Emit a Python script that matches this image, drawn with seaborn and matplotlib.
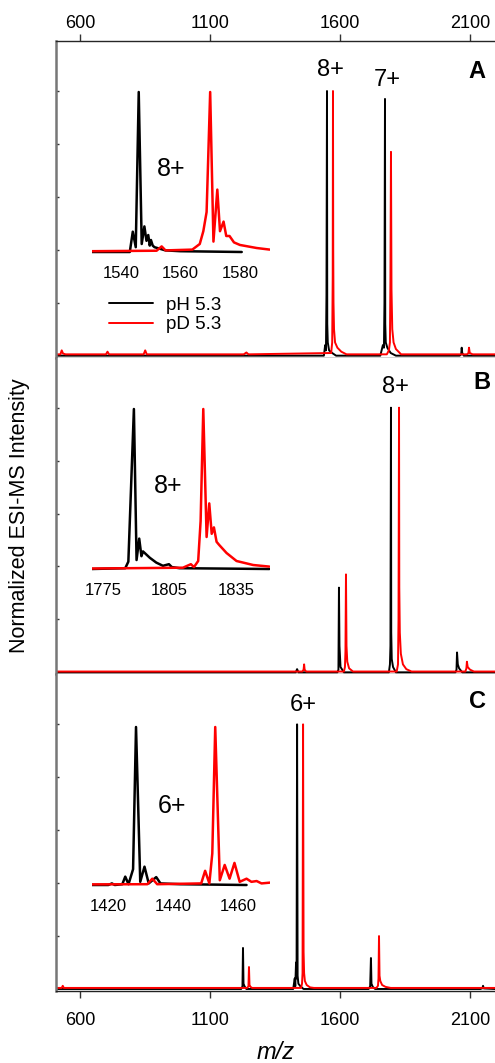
import numpy as np
import pandas as pd
import matplotlib
matplotlib.use("Agg")
import matplotlib.pyplot as plt
import seaborn as sns

# ---- data (m/z, normalized intensity) ----
# panel A, full range
a_ph_mz = [508, 1538, 1543, 1546, 1548, 1550, 1551, 1553, 1558, 1570, 1585, 1755, 1765, 1769, 1771,
           1773, 1774, 1776, 1782, 1795, 1815, 2060, 2066, 2068, 2070, 2076, 2196]
a_ph_int = [0, 0, 0.04, 0.02, 0.23, 1.0, 0.12, 0.05, 0.02, 0.01, 0, 0, 0.04, 0.03, 0.2,
            0.97, 0.12, 0.05, 0.03, 0.01, 0, 0, 0.005, 0.03, 0.01, 0, 0]
a_pd_mz = [508, 525, 530, 535, 545, 700, 706, 712, 845, 851, 857, 1230, 1240, 1248, 1566, 1570, 1572,
           1573, 1574, 1575, 1577, 1581, 1590, 1605, 1625, 1780, 1788, 1792, 1794, 1796, 1798, 1801,
           1806, 1815, 1835, 2088, 2094, 2096, 2099, 2110, 2196]
a_pd_int = [0.005, 0.005, 0.02, 0.008, 0.005, 0.005, 0.015, 0.005, 0.005, 0.02, 0.005, 0.005, 0.012,
            0.005, 0.01, 0.05, 0.3, 1.0, 0.4, 0.2, 0.1, 0.05, 0.03, 0.015, 0.005, 0.005, 0.02, 0.05,
            0.3, 0.77, 0.25, 0.1, 0.05, 0.025, 0.005, 0.005, 0.01, 0.03, 0.01, 0.005, 0.005]

# panel B, full range
b_ph_mz = [508, 1430, 1435, 1440, 1590, 1594, 1596, 1598, 1602, 1615, 1788, 1792, 1794, 1796, 1797,
           1799, 1804, 1815, 2044, 2048, 2050, 2053, 2058, 2070, 2196]
b_ph_int = [0, 0, 0.012, 0, 0, 0.01, 0.32, 0.1, 0.02, 0, 0, 0.03, 0.1, 1.0, 0.15,
            0.05, 0.02, 0, 0, 0.01, 0.075, 0.03, 0.015, 0, 0]
b_pd_mz = [508, 1455, 1460, 1462, 1464, 1470, 1615, 1619, 1621, 1623, 1625, 1628, 1635, 1650, 1818,
           1823, 1825, 1827, 1828, 1830, 1834, 1842, 1855, 1875, 2082, 2086, 2088, 2091, 2100, 2115, 2196]
b_pd_int = [0.003, 0.003, 0.01, 0.03, 0.01, 0.003, 0.003, 0.02, 0.08, 0.37, 0.1, 0.04, 0.015, 0.003,
            0.003, 0.03, 0.2, 1.0, 0.32, 0.15, 0.07, 0.03, 0.012, 0.003, 0.003, 0.015, 0.04, 0.02,
            0.01, 0.003, 0.003]

# panel C, full range
c_ph_mz = [508, 1220, 1225, 1227, 1229, 1233, 1240, 1420, 1426, 1428, 1431, 1433, 1435, 1437, 1440,
           1448, 1460, 1710, 1716, 1719, 1721, 1726, 1735, 2140, 2148, 2150, 2153, 2196]
c_ph_int = [0, 0, 0.01, 0.155, 0.02, 0.01, 0, 0, 0.04, 0.01, 0.1, 0.04, 1.0, 0.05, 0.02,
            0.01, 0, 0, 0.01, 0.117, 0.02, 0.008, 0, 0, 0.003, 0.012, 0.002, 0]
c_pd_mz = [508, 530, 534, 538, 700, 1243, 1248, 1250, 1252, 1256, 1262, 1450, 1454, 1456, 1458, 1460,
           1462, 1465, 1472, 1485, 1500, 1740, 1746, 1748, 1750, 1752, 1755, 1762, 1775, 1795, 2196]
c_pd_int = [0.004, 0.004, 0.012, 0.004, 0.004, 0.004, 0.01, 0.083, 0.015, 0.008, 0.004, 0.004, 0.02,
            0.06, 1.0, 0.14, 0.06, 0.03, 0.015, 0.006, 0.004, 0.004, 0.012, 0.04, 0.2, 0.05, 0.03,
            0.015, 0.008, 0.004, 0.004]

# insets (zoom on the main charge state)
ia_ph_mz = [1530, 1543, 1544, 1545, 1546, 1547, 1547.9, 1548.6, 1549.2, 1549.7, 1550.1, 1550.7,
            1551.3, 1555, 1560, 1580.6]
ia_ph_int = [0, 0, 0.127, 0.03, 1.0, 0.05, 0.16, 0.07, 0.106, 0.04, 0.075, 0.04, 0.03, 0.01, 0.005, 0]
ia_pd_mz = [1530, 1552, 1553.7, 1555, 1564, 1566.5, 1567.7, 1568.8, 1570, 1571.1, 1572.4, 1573.3,
            1574.5, 1575.4, 1576.5, 1578, 1580, 1585.6, 1590]
ia_pd_int = [0.005, 0.008, 0.035, 0.01, 0.015, 0.05, 0.13, 0.25, 1.0, 0.065, 0.39, 0.13, 0.19, 0.1,
             0.1, 0.06, 0.044, 0.025, 0.015]

ib_ph_mz = [1770, 1785, 1786.4, 1788.9, 1790.1, 1791.3, 1792.3, 1793, 1796.1, 1799, 1802, 1804.7,
            1806, 1809.5, 1850]
ib_ph_int = [0, 0.005, 0.046, 1.0, 0.056, 0.19, 0.08, 0.11, 0.07, 0.04, 0.02, 0.03, 0.012, 0.005, 0]
ib_pd_mz = [1770, 1811, 1814.6, 1816, 1817.9, 1819, 1820.2, 1821.7, 1822.9, 1824, 1825, 1826.2,
            1827.4, 1830.7, 1835.2, 1842.7, 1850]
ib_pd_int = [0.003, 0.008, 0.03, 0.012, 0.05, 0.3, 1.0, 0.2, 0.41, 0.22, 0.26, 0.17, 0.15, 0.1,
             0.05, 0.025, 0.015]

ic_ph_mz = [1415, 1420, 1421.1, 1422, 1424.3, 1425.2, 1426.2, 1427.6, 1428.5, 1429.8, 1431.1,
            1432.4, 1434.7, 1436, 1442, 1462.4]
ic_ph_int = [0, 0, 0.01, 0, 0.005, 0.053, 0.005, 0.1, 1.0, 0.02, 0.116, 0.01, 0.05, 0.01, 0.005, 0]
ic_pd_mz = [1415, 1432, 1433.5, 1435, 1448.5, 1449.7, 1451, 1451.9, 1452.8, 1454.2, 1455.7, 1457.2,
            1458.7, 1460.3, 1462.4, 1463.9, 1465.5, 1467, 1469.6]
ic_pd_int = [0.004, 0.005, 0.04, 0.005, 0.01, 0.09, 0.01, 0.2, 1.0, 0.03, 0.127, 0.04, 0.14, 0.02,
             0.04, 0.02, 0.025, 0.01, 0.015]

main_ticks = [600, 1100, 1600, 2100]
inset_ticks = [[1540, 1560, 1580], [1775, 1805, 1835], [1420, 1440, 1460]]
panel_letters = ["A", "B", "C"]
series_labels = ["pH 5.3", "pD 5.3"]

# ---- style ----
sns.set_style("white")
plt.rcParams['font.family'] = ['Liberation Sans', 'DejaVu Sans']
plt.rcParams['text.color'] = 'black'
plt.rcParams['xtick.color'] = 'black'
plt.rcParams['axes.labelcolor'] = 'black'
plt.rcParams['axes.linewidth'] = 1.0

W, H = 495, 1063
fig = plt.figure(figsize=(W / 100, H / 100), dpi=100)


def fx(px):
    return px / W


def fy(py):
    return 1 - py / H


def draw(ax, x1, y1, x2, y2, lw):
    sns.lineplot(x=x1, y=y1, ax=ax, color="black", lw=lw, estimator=None, sort=False,
                 label=series_labels[0])
    sns.lineplot(x=x2, y=y2, ax=ax, color="#ff0000", lw=lw, estimator=None, sort=False,
                 label=series_labels[1])
    ax.get_legend().remove()


# main panels
left, right, top, bottom = 56, 495, 41, 991
ph = (bottom - top) / 3
traces = [(a_ph_mz, a_ph_int, a_pd_mz, a_pd_int),
          (b_ph_mz, b_ph_int, b_pd_mz, b_pd_int),
          (c_ph_mz, c_ph_int, c_pd_mz, c_pd_int)]
axes = []
for i in range(3):
    y_top = top + i * ph
    ax = fig.add_axes([fx(left), fy(y_top + ph), fx(right - left), ph / H])
    draw(ax, *traces[i], lw=1.4)
    ax.set_xlim(508, 2196)
    ax.set_ylim(-0.0076, 1.189)
    ax.set_yticks([0.2, 0.4, 0.6, 0.8, 1.0])
    ax.set_yticklabels([])
    ax.set_xticks(main_ticks)
    ax.tick_params(axis="y", direction="in", length=2, width=1, color="#333333", left=True)
    ax.tick_params(axis="x", direction="out", length=5, width=1, color="#333333",
                   labelsize=13, bottom=False, labelbottom=False)
    ax.set_xlabel("")
    ax.set_ylabel("")
    ax.spines["right"].set_visible(False)
    ax.spines["left"].set_color("#777777")
    ax.spines["left"].set_linewidth(1.8)
    ax.spines["top"].set_visible(i == 0)
    ax.spines["bottom"].set_color("#222222")
    axes.append(ax)

axes[0].tick_params(axis="x", top=True, labeltop=True, pad=1.5)
axes[2].tick_params(axis="x", bottom=True, labelbottom=True, pad=10)
axes[2].set_xlabel("m/z", fontsize=17, style="italic", labelpad=9)

fig.text(fx(20), fy(516), "Normalized ESI-MS Intensity", rotation=90, ha="center", va="center",
         fontsize=15.5)

# peak labels and panel letters
for (x, y, s) in [(330, 70, "8+"), (387, 80, "7+"), (395, 387, "8+"), (303, 705, "6+")]:
    fig.text(fx(x), fy(y), s, ha="center", va="center", fontsize=17)
for (x, y), s in zip([(477, 71), (482, 382), (477, 701)], panel_letters):
    fig.text(fx(x), fy(y), s, ha="center", va="center", fontsize=17, fontweight="bold")

# insets
inset_traces = [(ia_ph_mz, ia_ph_int, ia_pd_mz, ia_pd_int),
                (ib_ph_mz, ib_ph_int, ib_pd_mz, ib_pd_int),
                (ic_ph_mz, ic_ph_int, ic_pd_mz, ic_pd_int)]
inset_xlim = [(1530.3, 1590.1), (1770, 1850.3), (1415, 1469.6)]
inset_base = [(252, 92), (569, 409), (885, 727)]
inset_charge = [(171, 169, "8+"), (168, 486, "8+"), (172, 806, "6+")]
for i in range(3):
    base, peak = inset_base[i]
    unit = base - peak
    b_px = base + 0.03 * unit
    t_px = peak - 0.03 * unit
    iax = fig.add_axes([fx(92), fy(b_px), fx(270 - 92), (b_px - t_px) / H])
    iax.set_facecolor("none")
    draw(iax, *inset_traces[i], lw=1.8)
    iax.set_xlim(*inset_xlim[i])
    iax.set_ylim(-0.03, 1.03)
    iax.set_xticks(inset_ticks[i])
    iax.set_yticks([])
    iax.tick_params(axis="x", length=0, labelsize=12, pad=6.5)
    for lab in iax.get_xticklabels():
        lab.set_family(['Liberation Sans Narrow', 'Liberation Sans'])
    iax.set_xlabel("")
    iax.set_ylabel("")
    for s in iax.spines.values():
        s.set_visible(False)
    x, y, s = inset_charge[i]
    fig.text(fx(x), fy(y), s, ha="center", va="center", fontsize=18)

# legend (panel A)
handles, labels = axes[0].get_legend_handles_labels()
fig.legend(handles[:2], labels[:2], loc="center left", bbox_to_anchor=(fx(109), fy(315)),
           frameon=False, fontsize=13.5, handlelength=2.35, handletextpad=0.7,
           borderpad=0, borderaxespad=0, labelspacing=0.12)

fig.savefig("out.png", dpi=100)
